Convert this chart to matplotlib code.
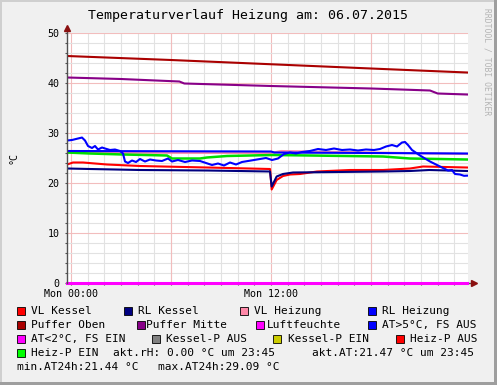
import matplotlib
matplotlib.use("Agg")
import matplotlib.pyplot as plt
from matplotlib.patches import Rectangle

# Temperaturverlauf Heizung, 06.07.2015 (rrdtool-style chart)
# time in hours since Mon 00:00, values in degC

W, H = 497, 385

title = "Temperaturverlauf Heizung am: 06.07.2015"

oben_t = [-0.24, 6.0, 12.0, 18.0, 23.76]
oben_v = [45.4, 44.6, 43.75, 42.9, 42.1]

mitte_t = [-0.24, 3.0, 6.5, 6.8, 12.0, 18.0, 21.54, 22.0, 23.76]
mitte_v = [41.1, 40.8, 40.3, 39.9, 39.4, 38.9, 38.5, 37.9, 37.7]

vl_heiz_t = [-0.24, 12.0, 12.6, 23.76]
vl_heiz_v = [26.1, 26.0, 26.4, 25.8]

rl_heiz_t = [-0.24, 12.0, 12.2, 23.76]
rl_heiz_v = [26.4, 26.3, 26.1, 25.9]

heizp_t = [-0.24, 1.14, 3.12, 5.76, 6.06, 7.74, 8.16, 9.36, 12.12, 18.72, 20.34, 23.76]
heizp_v = [26.1, 25.9, 25.7, 25.5, 24.9, 24.9, 25.1, 25.4, 25.6, 25.3, 24.9, 24.7]

vl_kessel_t = [-0.24, 0.12, 0.72, 2.16, 4.14, 8.16, 11.94, 12.0, 12.04, 12.34, 12.72,
               13.14, 13.74, 14.76, 16.74, 18.72, 20.34, 21.12, 23.76]
vl_kessel_v = [23.7, 24.1, 24.1, 23.7, 23.4, 23.1, 22.8, 20.5, 18.7, 20.6, 21.4,
               21.7, 21.8, 22.3, 22.6, 22.6, 22.9, 23.3, 23.1]

rl_kessel_t = [-0.24, 1.14, 4.14, 8.16, 11.94, 12.04, 12.34, 12.72, 13.32, 18.72,
               20.34, 21.5, 23.76]
rl_kessel_v = [22.9, 22.8, 22.6, 22.5, 22.3, 19.3, 21.3, 21.8, 22.1, 22.3,
               22.4, 22.6, 22.4]

at_t = [-0.24, 0.06, 0.42, 0.66, 0.84, 1.02, 1.26, 1.44, 1.62, 1.86, 2.04, 2.34, 2.64,
        2.94, 3.12, 3.24, 3.42, 3.66, 3.9, 4.14, 4.44, 4.74, 5.1, 5.46, 5.82, 6.06,
        6.42, 6.84, 7.26, 7.74, 8.1, 8.46, 8.82, 9.18, 9.54, 9.9, 10.26, 10.62, 10.98,
        11.34, 11.7, 12.06, 12.42, 12.78, 13.14, 13.5, 13.86, 14.34, 14.82, 15.3, 15.78,
        16.26, 16.74, 17.22, 17.7, 18.18, 18.54, 18.9, 19.26, 19.56, 19.86, 20.04, 20.22,
        20.46, 20.94, 21.54, 22.14, 22.62, 22.86, 23.04, 23.34, 23.58, 23.76]
at_v = [28.5, 28.6, 28.9, 29.09, 28.5, 27.4, 27.0, 27.4, 26.7, 27.1, 26.9, 26.6, 26.7,
        26.4, 25.9, 24.3, 24.0, 24.5, 24.2, 24.8, 24.3, 24.7, 24.5, 24.4, 24.9, 24.3,
        24.6, 24.2, 24.5, 24.4, 24.0, 23.6, 23.9, 23.5, 24.1, 23.7, 24.2, 24.4, 24.6,
        24.8, 25.0, 24.6, 24.9, 25.8, 26.1, 25.9, 26.2, 26.4, 26.8, 26.6, 26.9,
        26.6, 26.7, 26.5, 26.7, 26.6, 26.8, 27.3, 27.6, 27.3, 28.1, 28.2, 27.6,
        26.6, 25.5, 24.3, 23.3, 22.5, 22.6, 21.8, 21.7, 21.44, 21.47]

rh_t = [-0.24, 23.76]
rh_v = [0.0, 0.0]

legend_rows = [
    [("VL Kessel", "#FF0000", 17, 31), ("RL Kessel", "#000080", 124, 138),
     ("VL Heizung", "#FF88A8", 240, 254), ("RL Heizung", "#0000FF", 368, 382)],
    [("Puffer Oben", "#AA0000", 17, 31), ("Puffer Mitte", "#880088", 137, 146),
     ("Luftfeuchte", "#FF00FF", 256, 267), ("AT>5°C, FS AUS", "#0000FF", 368, 382)],
    [("AT<2°C, FS EIN", "#FF00FF", 17, 31), ("Kessel-P AUS", "#808080", 152, 166),
     ("Kessel-P EIN", "#CCCC00", 273, 288), ("Heiz-P AUS", "#FF0000", 396, 410)],
    [("Heiz-P EIN", "#00FF00", 17, 31)],
]
legend_y = [311, 325, 339, 353]
extra_text = [("akt.rH: 0.00 °C um 23:45", 113, 353),
              ("akt.AT:21.47 °C um 23:45", 312, 353),
              ("min.AT24h:21.44 °C", 17, 367),
              ("max.AT24h:29.09 °C", 158, 367)]

plt.rcParams['font.family'] = ['DejaVu Sans Mono']

fig = plt.figure(figsize=(W / 100, H / 100), dpi=100, facecolor="#F0F0F0")

x0, x1, ytop, ybot = 67, 468, 33, 283
ax = fig.add_axes([x0 / W, 1 - ybot / H, (x1 - x0) / W, (ybot - ytop) / H])
ax.set_facecolor("white")
ax.set_xlim(-0.24, 23.82)
ax.set_ylim(0, 50)
for s in ax.spines.values():
    s.set_visible(False)

ax.set_yticks(range(0, 51, 10))
ax.set_yticks(range(0, 51, 2), minor=True)
ax.set_xticks([0, 12])
ax.set_xticklabels(["Mon 00:00", "Mon 12:00"])
ax.set_xticks(range(0, 24), minor=True)
ax.grid(which="minor", color="#E2E2E2", lw=0.8)
ax.grid(which="major", color="#F2BDBD", lw=0.8)
for t in [6, 18]:
    ax.axvline(t, color="#F2BDBD", lw=0.8, zorder=0.9)
ax.set_axisbelow(True)
ax.tick_params(axis="both", which="both", length=1.5, width=0.8, color="#505050",
               labelsize=7.2, labelcolor="black")
ax.tick_params(axis="y", pad=4)
ax.tick_params(axis="x", pad=3)

lw = 1.5
ax.plot(rh_t, rh_v, color="#FF00FF", lw=2.2, clip_on=False, zorder=3)
ax.plot(oben_t, oben_v, color="#AA0000", lw=lw)
ax.plot(mitte_t, mitte_v, color="#880088", lw=lw)
ax.plot(vl_heiz_t, vl_heiz_v, color="#FF88A8", lw=lw)
ax.plot(heizp_t, heizp_v, color="#00DD00", lw=lw + 0.3)
ax.plot(rl_heiz_t, rl_heiz_v, color="#0000FF", lw=lw)
ax.plot(vl_kessel_t, vl_kessel_v, color="#FF0000", lw=lw)
ax.plot(rl_kessel_t, rl_kessel_v, color="#000080", lw=lw)
ax.plot(at_t, at_v, color="#0000FF", lw=lw)

# axes with arrows
ax.plot([0, 1.015], [0, 0], transform=ax.transAxes, color="#505050", lw=1,
        clip_on=False, zorder=2)
ax.plot([0, 0], [0, 1.02], transform=ax.transAxes, color="#505050", lw=1,
        clip_on=False, zorder=4)
ax.plot([1.015], [0], transform=ax.transAxes, marker=">", ms=4, color="#8B1010",
        clip_on=False, zorder=5)
ax.plot([0], [1.02], transform=ax.transAxes, marker="^", ms=4, color="#8B1010",
        clip_on=False, zorder=5)

ax.set_ylabel("°C", fontsize=7.2)
ax.yaxis.set_label_coords(-0.12, 0.5)

fig.text(248 / W, 1 - 16 / H, title, fontsize=9.5, ha="center", va="center")
fig.text(487 / W, 1 - 8 / H, "RRDTOOL / TOBI OETIKER", fontsize=5.8, color="#B4B4B4",
         rotation=270, ha="center", va="top")

for row, y in zip(legend_rows, legend_y):
    for name, col, sx, tx in row:
        fig.patches.append(Rectangle((sx / W, 1 - (y + 4) / H), 8 / W, 8 / H,
                                     transform=fig.transFigure, fc=col, ec="black",
                                     lw=0.6))
        fig.text(tx / W, 1 - y / H, name, fontsize=8, va="center", ha="left")
for txt, tx, y in extra_text:
    fig.text(tx / W, 1 - y / H, txt, fontsize=8, va="center", ha="left")

# frame
fig.patches.append(Rectangle((0, 0), 2 / W, 1, transform=fig.transFigure, fc="#CFCFCF", lw=0))
fig.patches.append(Rectangle((0, 1 - 2 / H), 1, 2 / H, transform=fig.transFigure, fc="#CFCFCF", lw=0))
fig.patches.append(Rectangle((1 - 3 / W, 0), 3 / W, 1, transform=fig.transFigure, fc="#9E9E9E", lw=0))
fig.patches.append(Rectangle((0, 0), 1, 3 / H, transform=fig.transFigure, fc="#9E9E9E", lw=0))

fig.savefig("out.png", dpi=100, facecolor=fig.get_facecolor())
